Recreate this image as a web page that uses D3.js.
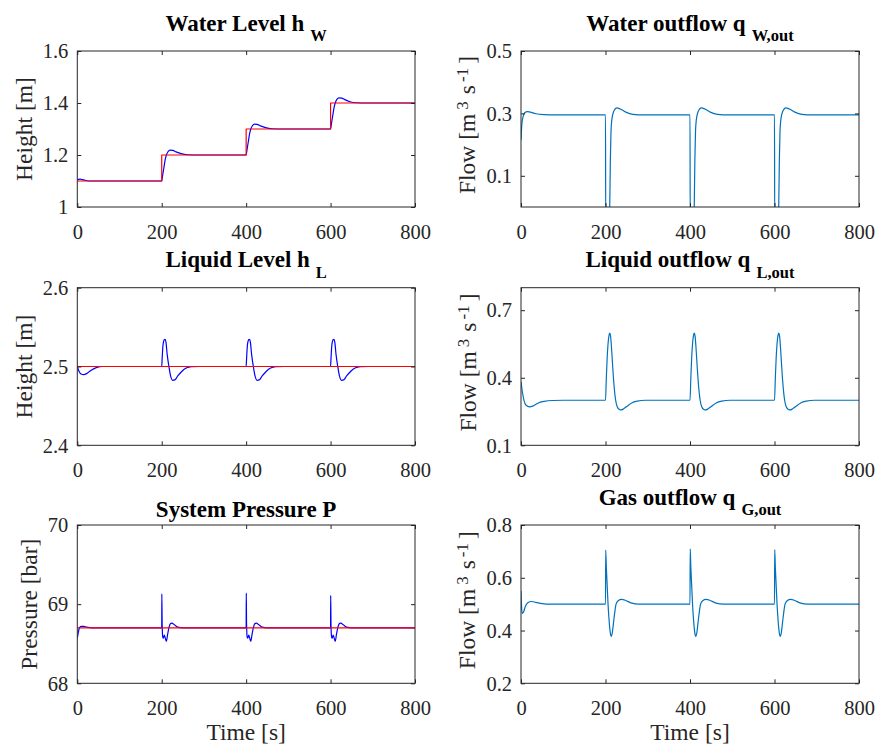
<!DOCTYPE html>
<html>
<head>
<meta charset="utf-8">
<script src="https://cdn.jsdelivr.net/npm/d3@7/dist/d3.min.js"></script>
<style>
body{margin:0;background:#fff;}
</style>
</head>
<body>
<div id="container"></div>
<script>
// water level h_W (measured) and its set point
var hwTime = [0,3,7,12,20,35,60,
  200,202,205,208,211,215,220,226,234,246,262,285,
  400,402,405,408,411,415,420,426,434,446,462,485,
  600,602,605,608,611,615,620,626,634,646,662,685,800];
var hwValue = [1.104,1.106,1.107,1.105,1.102,1.1,1.1,
  1.1,1.12,1.15,1.18,1.2,1.213,1.219,1.218,1.212,1.205,1.201,1.2,
  1.2,1.22,1.25,1.28,1.3,1.313,1.319,1.318,1.312,1.305,1.301,1.3,
  1.3,1.32,1.35,1.38,1.4,1.414,1.42,1.419,1.413,1.405,1.401,1.4,1.4];
var hwRefTime = [0,200,400,600,800];
var hwRefValue = [1.1,1.2,1.3,1.4,1.4];

// water outflow q_W,out
var qwTime = [0,2,5,9,15,22,35,55,80,
  200,200.5,209,210,211.5,213,215,219,227,235,248,265,290,
  400,400.5,409,410,411.5,413,415,419,427,435,448,465,490,
  600,600.5,609,610,611.5,613,615,619,627,635,648,665,690,800];
var qwValue = [0.215,0.265,0.29,0.302,0.306,0.304,0.299,0.296,0.295,
  0.295,-0.05,-0.05,0,0.15,0.24,0.28,0.305,0.318,0.314,0.304,0.297,0.295,
  0.295,-0.05,-0.05,0,0.15,0.24,0.28,0.305,0.318,0.314,0.304,0.297,0.295,
  0.295,-0.05,-0.05,0,0.15,0.24,0.28,0.305,0.318,0.314,0.304,0.297,0.295,0.295];

// liquid level h_L
var hlTime = [0,4,9,15,22,32,45,60,
  200,201,203,206,208,210,213,217,221,226,231,238,248,258,270,290,
  400,401,403,406,408,410,413,417,421,426,431,438,448,458,470,490,
  600,601,603,606,608,610,613,617,621,626,631,638,648,658,670,690,800];
var hlValue = [2.5,2.494,2.4905,2.4898,2.491,2.495,2.4985,2.5,
  2.5,2.51,2.527,2.534,2.5345,2.531,2.515,2.5,2.488,2.4825,2.483,2.488,2.494,2.498,2.4998,2.5,
  2.5,2.51,2.527,2.534,2.5345,2.531,2.515,2.5,2.488,2.4825,2.483,2.488,2.494,2.498,2.4998,2.5,
  2.5,2.51,2.527,2.534,2.5345,2.531,2.515,2.5,2.488,2.4825,2.483,2.488,2.494,2.498,2.4998,2.5,2.5];
var hlRefTime = [0,800];
var hlRefValue = [2.5,2.5];

// liquid outflow q_L,out
var qlTime = [0,3,7,12,20,28,40,55,75,100,
  200,202,204,206,208,210,212,214,217,220,224,228,233,237,243,252,262,275,295,
  400,402,404,406,408,410,412,414,417,420,424,428,433,437,443,452,462,475,495,
  600,602,604,606,608,610,612,614,617,620,624,628,633,637,643,652,662,675,695,800];
var qlValue = [0.383,0.34,0.3,0.278,0.271,0.274,0.287,0.295,0.299,0.3,
  0.3,0.4,0.49,0.55,0.585,0.598,0.585,0.54,0.45,0.37,0.3,0.27,0.259,0.257,0.262,0.275,0.288,0.296,0.3,
  0.3,0.4,0.49,0.55,0.585,0.598,0.585,0.54,0.45,0.37,0.3,0.27,0.259,0.257,0.262,0.275,0.288,0.296,0.3,
  0.3,0.4,0.49,0.55,0.585,0.598,0.585,0.54,0.45,0.37,0.3,0.27,0.259,0.257,0.262,0.275,0.288,0.296,0.3,0.3];

// system pressure P
var pTime = [0,2,5,9,15,22,35,
  200,200.3,201,202.5,204,206,208,211,214,217,220,224,230,238,250,
  400,400.3,401,402.5,404,406,408,411,414,417,420,424,430,438,450,
  600,600.3,601,602.5,604,606,608,611,614,617,620,624,630,638,650,800];
var pValue = [68.57,68.63,68.7,68.72,68.72,68.71,68.7,
  68.7,69.13,68.75,68.58,68.57,68.61,68.58,68.53,68.62,68.7,68.75,68.76,68.74,68.71,68.7,
  68.7,69.14,68.75,68.58,68.57,68.61,68.58,68.53,68.62,68.7,68.75,68.76,68.74,68.71,68.7,
  68.7,69.11,68.75,68.58,68.57,68.61,68.58,68.53,68.62,68.7,68.75,68.76,68.74,68.71,68.7,68.7];
var pRefTime = [0,800];
var pRefValue = [68.7,68.7];

// gas outflow q_G,out
var qgTime = [0,1,3,6,10,16,25,35,50,70,
  200,200.5,202,204,206,208,210,212,214,216,219,222,225,230,238,248,260,280,
  400,400.5,402,404,406,408,410,412,414,416,419,422,425,430,438,448,460,480,
  600,600.5,602,604,606,608,610,612,614,616,619,622,625,630,638,648,660,680,800];
var qgValue = [0.55,0.5,0.465,0.47,0.49,0.505,0.51,0.507,0.502,0.5,
  0.5,0.705,0.64,0.57,0.5,0.45,0.41,0.385,0.378,0.39,0.43,0.47,0.5,0.513,0.518,0.514,0.505,0.5,
  0.5,0.71,0.64,0.57,0.5,0.45,0.41,0.385,0.378,0.39,0.43,0.47,0.5,0.513,0.518,0.514,0.505,0.5,
  0.5,0.707,0.64,0.57,0.5,0.45,0.41,0.385,0.378,0.39,0.43,0.47,0.5,0.513,0.518,0.514,0.505,0.5,0.5];

var xTicks = [0,200,400,600,800];

(function(){
var _svg, _panels,
  FONT = '"Liberation Serif", "Times New Roman", serif',
  AXIS = '#262626', BLUE = '#0000ff', RED = '#ff0000', MBLUE = '#0072bd',
  zip = function(t, v){ return t.map(function(d, i){ return [d, v[i]]; }); },
  drawPanel = function(p, idx){
    var x = d3.scaleLinear().domain([0, 800]).range([p.x0, p.x1]),
      y = d3.scaleLinear().domain(p.domain).range([p.y1, p.y0]),
      g = _svg.append('g'),
      clipId = 'clip' + idx;

    _svg.append('clipPath').attr('id', clipId).append('rect')
      .attr('x', p.x0).attr('y', p.y0)
      .attr('width', p.x1 - p.x0).attr('height', p.y1 - p.y0);

    // series
    var plot = g.append('g').attr('clip-path', 'url(#' + clipId + ')');
    p.series.forEach(function(s){
      var line = d3.line()
        .x(function(d){ return x(d[0]); })
        .y(function(d){ return y(d[1]); })
        .curve(s.step ? d3.curveStepAfter : d3.curveMonotoneX);
      plot.append('path').datum(s.data)
        .attr('fill', 'none').attr('stroke', s.color)
        .attr('stroke-width', 1.2).attr('stroke-linejoin', 'round')
        .attr('d', line);
    });

    // axes: box with inward ticks on all four sides
    var bottom = d3.axisBottom(x).tickValues(xTicks).tickSizeInner(-4).tickSizeOuter(0).tickPadding(17).tickFormat(d3.format('d')),
      top = d3.axisTop(x).tickValues(xTicks).tickSizeInner(-4).tickSizeOuter(0).tickFormat(''),
      left = d3.axisLeft(y).tickValues(p.ticks).tickSizeInner(-4).tickSizeOuter(0).tickPadding(9).tickFormat(d3.format('~g')),
      right = d3.axisRight(y).tickValues(p.ticks).tickSizeInner(-4).tickSizeOuter(0).tickFormat('');

    [[bottom, 'translate(0,' + p.y1 + ')'], [top, 'translate(0,' + p.y0 + ')'],
     [left, 'translate(' + p.x0 + ',0)'], [right, 'translate(' + p.x1 + ',0)']].forEach(function(a, k){
      var ax = g.append('g').attr('transform', a[1]).call(a[0]);
      ax.attr('font-family', null);
      ax.select('.domain').remove();
      ax.selectAll('line').attr('stroke', AXIS);
      ax.selectAll('text').attr('fill', AXIS).attr('font-size', 20.5);
      if(k === 2) ax.selectAll('text').attr('dy', '0.33em');
    });

    g.append('rect').attr('x', p.x0).attr('y', p.y0)
      .attr('width', p.x1 - p.x0).attr('height', p.y1 - p.y0)
      .attr('fill', 'none').attr('stroke', AXIS).attr('stroke-width', 1);

    // title
    var cx = (p.x0 + p.x1) / 2,
      title = g.append('text').attr('x', cx).attr('text-anchor', 'middle')
        .attr('font-weight', 'bold').attr('font-size', 23).attr('fill', '#000')
        .attr('y', p.y0 - (p.sub ? 20.5 : 8.5));
    title.append('tspan').text(p.title);
    if(p.sub){
      title.append('tspan').attr('dx', 6).attr('dy', 10.5).attr('font-size', 16.5).text(p.sub);
    }

    // y label
    var yl = g.append('text')
      .attr('text-anchor', 'middle').attr('font-size', 23.5).attr('fill', AXIS);
    if(p.flow){
      yl.attr('transform', 'translate(' + p.ylx + ',' + ((p.y0 + p.y1) / 2 - 4) + ') rotate(-90)');
      yl.append('tspan').text('Flow [m');
      yl.append('tspan').attr('dx', 4).attr('dy', -7).attr('font-size', 17).text('3');
      yl.append('tspan').attr('dx', 7).attr('dy', 7).text('s');
      yl.append('tspan').attr('dx', 3).attr('dy', -7).attr('font-size', 17).text('-1');
      yl.append('tspan').attr('dx', 4).attr('dy', 7).text(']');
    } else {
      yl.attr('transform', 'translate(' + p.ylx + ',' + ((p.y0 + p.y1) / 2) + ') rotate(-90)');
      yl.text(p.ylabel);
    }

    if(p.time){
      g.append('text').attr('x', cx).attr('y', 740).attr('text-anchor', 'middle')
        .attr('font-size', 23.5).attr('fill', AXIS).text('Time [s]');
    }
  },
  setup = function(){
    _svg = d3.select('#container').append('svg')
      .attr('width', 877).attr('height', 744)
      .style('background', '#fff');

    _panels = [
      {x0: 77.3, x1: 415, y0: 51, y1: 207, domain: [1, 1.6], ticks: [1, 1.2, 1.4, 1.6],
        title: 'Water Level h', sub: 'W', ylabel: 'Height [m]', ylx: 31.5,
        series: [{data: zip(hwTime, hwValue), color: BLUE}, {data: zip(hwRefTime, hwRefValue), color: RED, step: true}]},
      {x0: 521, x1: 859, y0: 51, y1: 207, domain: [0, 0.5], ticks: [0.1, 0.3, 0.5],
        title: 'Water outflow q', sub: 'W,out', flow: true, ylx: 475,
        series: [{data: zip(qwTime, qwValue), color: MBLUE}]},
      {x0: 77.3, x1: 415, y0: 287.7, y1: 445.3, domain: [2.4, 2.6], ticks: [2.4, 2.5, 2.6],
        title: 'Liquid Level h', sub: 'L', ylabel: 'Height [m]', ylx: 32,
        series: [{data: zip(hlTime, hlValue), color: BLUE}, {data: zip(hlRefTime, hlRefValue), color: RED}]},
      {x0: 521, x1: 859, y0: 287.7, y1: 445.3, domain: [0.1, 0.8], ticks: [0.1, 0.4, 0.7],
        title: 'Liquid outflow q', sub: 'L,out', flow: true, ylx: 475.5,
        series: [{data: zip(qlTime, qlValue), color: MBLUE}]},
      {x0: 77.3, x1: 415, y0: 525, y1: 683.3, domain: [68, 70], ticks: [68, 69, 70],
        title: 'System Pressure P', ylabel: 'Pressure [bar]', ylx: 36.7, time: true,
        series: [{data: zip(pTime, pValue), color: BLUE}, {data: zip(pRefTime, pRefValue), color: RED}]},
      {x0: 521, x1: 859, y0: 525, y1: 683.3, domain: [0.2, 0.8], ticks: [0.2, 0.4, 0.6, 0.8],
        title: 'Gas outflow q', sub: 'G,out', flow: true, ylx: 474.5, time: true,
        series: [{data: zip(qgTime, qgValue), color: MBLUE}]}
    ];
    _panels.forEach(drawPanel);
    _svg.selectAll('text').style('font-family', FONT);
  };
setup();
})();
</script>
</body>
</html>
